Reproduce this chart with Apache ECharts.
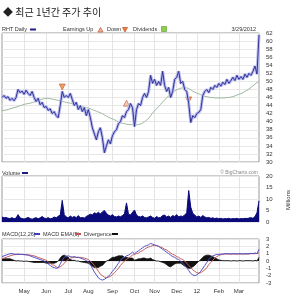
<!DOCTYPE html>
<html>
<head>
<meta charset="utf-8">
<script src="https://cdn.jsdelivr.net/npm/echarts@6/dist/echarts.min.js"></script>
<style>
  html, body { margin: 0; padding: 0; background: #fff; }
  #chart { width: 297px; height: 298px; }
</style>
</head>
<body>
<div id="chart"></div>
<script>
// daily closes, sampled every other trading day (Apr 2011 - 3/29/2012)
const price = [
  46.0, 46.5, 45.8, 46.2, 45.3, 45.8, 45.2, 46.0, 48.0, 47.2,
  47.6, 46.8, 47.8, 47.0, 46.5, 47.5, 46.0, 45.0, 45.8, 44.2,
  44.8, 43.5, 43.8, 42.8, 43.2, 42.0, 42.5, 41.5, 41.0, 44.0,
  47.5, 46.0, 46.5, 46.0, 47.0, 45.5, 44.0, 44.8, 43.0, 44.0,
  42.5, 43.5, 41.5, 43.0, 41.0, 38.5, 37.0, 35.5, 37.5, 38.5,
  36.0, 32.3, 34.0, 35.5, 34.5, 36.5, 37.5, 38.0, 39.5, 40.0,
  41.5, 41.0, 42.5, 43.0, 44.5, 43.5, 38.8, 43.0, 44.5, 44.0,
  46.0, 47.0, 46.0, 47.5, 51.5, 49.5, 50.5, 49.0, 50.0, 49.0,
  52.5, 49.0, 47.5, 48.5, 46.0, 47.5, 50.5, 51.0, 52.5, 49.5,
  50.0, 48.0, 47.5, 44.5, 39.8, 41.5, 41.0, 42.0, 42.3, 43.0,
  46.5, 47.5, 48.0, 47.2, 48.5, 48.0, 49.0, 48.5, 49.5, 48.8,
  49.8, 49.2, 50.5, 49.5, 50.2, 51.0, 50.2, 51.5, 50.5, 51.2,
  50.5, 51.8, 51.0, 52.0, 51.5, 52.5, 53.8, 51.8, 61.5
];
const movingAvg = [
  42.7, 42.8, 42.9, 43.0, 43.2, 43.3, 43.5, 43.6, 43.8, 44.0,
  44.1, 44.3, 44.4, 44.5, 44.6, 44.7, 44.9, 45.1, 45.3, 45.5,
  45.6, 45.7, 45.8, 45.8, 45.7, 45.6, 45.5, 45.4, 45.3, 45.2,
  45.0, 44.9, 44.8, 44.7, 44.6, 44.5, 44.3, 44.2, 44.0, 43.9,
  43.8, 43.6, 43.5, 43.4, 43.2, 43.0, 42.8, 42.6, 42.4, 42.2,
  42.0, 41.7, 41.4, 41.1, 40.9, 40.7, 40.5, 40.2, 40.0, 39.8,
  39.6, 39.5, 39.4, 39.3, 39.3, 39.2, 39.2, 39.2, 39.3, 39.4,
  39.7, 40.0, 40.4, 40.8, 41.5, 42.1, 42.7, 43.2, 43.8, 44.3,
  44.9, 45.4, 45.9, 46.4, 46.8, 47.2, 47.6, 47.9, 48.1, 48.3,
  48.4, 48.5, 48.4, 48.2, 47.9, 47.6, 47.3, 47.1, 46.9, 46.7,
  46.5, 46.3, 46.2, 46.1, 46.0, 46.0, 45.9, 45.9, 45.9, 45.9,
  45.9, 45.9, 46.0, 46.0, 46.1, 46.2, 46.4, 46.6, 46.8, 47.0,
  47.2, 47.5, 47.8, 48.1, 48.5, 48.9, 49.3, 49.7, 50.0
];
// volume, millions
const volume = [
  2.2, 1.8, 2.0, 1.6, 1.5, 1.9, 1.4, 1.7, 3.2, 1.8,
  1.5, 1.3, 1.6, 2.0, 1.5, 1.2, 1.6, 1.9, 1.4, 1.8,
  2.4, 1.7, 1.5, 1.9, 1.4, 1.6, 2.2, 1.8, 2.5, 3.0,
  9.4, 3.2, 2.2, 1.8, 2.6, 2.0, 2.4, 1.9, 2.8, 1.8,
  2.0, 1.7, 2.4, 2.9, 3.4, 3.0, 4.0, 3.6, 4.2, 3.5,
  4.4, 5.0, 3.8, 3.0, 2.6, 3.2, 2.4, 2.2, 2.6, 2.3,
  2.8, 3.6, 8.3, 3.4, 3.0, 4.2, 5.2, 3.0, 2.4, 2.2,
  2.6, 2.0, 1.8, 2.2, 2.6, 2.0, 1.6, 2.4, 1.8, 2.0,
  2.8, 3.0, 2.2, 2.6, 2.0, 2.8, 2.4, 3.2, 2.2, 2.6,
  2.4, 3.0, 4.0, 13.7, 6.5, 3.8, 3.0, 2.2, 2.6, 2.0,
  2.8, 2.2, 1.8, 2.0, 1.6, 1.8, 1.5, 1.7, 1.4, 1.6,
  1.3, 1.5, 1.4, 1.6, 1.3, 1.5, 1.4, 1.6, 1.3, 1.5,
  1.4, 1.6, 1.5, 1.7, 1.9, 1.6, 2.4, 4.0, 9.2
];
const macd = [
  0.6, 0.7, 0.8, 0.9, 1.0, 1.0, 0.95, 0.9, 0.95, 0.9,
  0.9, 0.85, 0.85, 0.8, 0.7, 0.6, 0.5, 0.4, 0.3, 0.2,
  0.1, 0.0, -0.2, -0.4, -0.6, -0.8, -0.9, -1.0, -0.9, -0.4,
  0.1, 0.5, 0.65, 0.7, 0.6, 0.55, 0.6, 0.5, 0.5, 0.4,
  0.3, 0.2, 0.05, -0.1, -0.5, -1.0, -1.5, -1.9, -2.3, -2.5,
  -2.6, -2.5, -2.3, -2.1, -1.8, -1.4, -1.1, -0.7, -0.3, 0.1,
  0.4, 0.5, 0.7, 0.8, 1.0, 1.2, 1.0, 1.2, 1.4, 1.6,
  1.8, 2.0, 2.1, 2.2, 2.4, 2.3, 2.2, 2.1, 2.0, 1.8,
  1.6, 1.4, 1.2, 1.0, 0.8, 0.6, 0.5, 0.3, 0.2, 0.0,
  -0.3, -0.6, -0.9, -1.3, -1.7, -1.9, -2.0, -1.9, -1.7, -1.4,
  -1.0, -0.6, -0.2, 0.2, 0.5, 0.7, 0.8, 0.9, 0.9, 0.95,
  0.95, 1.0, 1.0, 1.0, 0.95, 1.0, 1.0, 0.95, 1.0, 1.0,
  0.95, 1.0, 1.0, 1.0, 1.05, 1.0, 1.1, 1.0, 1.6
];
const macdEma = [
  0.3, 0.4, 0.5, 0.6, 0.7, 0.8, 0.85, 0.9, 0.9, 0.9,
  0.9, 0.9, 0.85, 0.85, 0.8, 0.75, 0.7, 0.6, 0.5, 0.4,
  0.3, 0.2, 0.1, -0.1, -0.3, -0.5, -0.6, -0.8, -0.9, -0.8,
  -0.6, -0.3, 0.0, 0.2, 0.4, 0.45, 0.5, 0.5, 0.5, 0.5,
  0.45, 0.4, 0.3, 0.2, 0.0, -0.3, -0.6, -1.0, -1.4, -1.8,
  -2.0, -2.2, -2.25, -2.2, -2.1, -1.9, -1.6, -1.3, -1.0, -0.6,
  -0.3, 0.0, 0.2, 0.4, 0.6, 0.8, 0.9, 1.0, 1.1, 1.3,
  1.4, 1.6, 1.8, 1.9, 2.0, 2.1, 2.1, 2.1, 2.0, 1.9,
  1.8, 1.6, 1.5, 1.3, 1.1, 0.9, 0.8, 0.6, 0.5, 0.3,
  0.2, 0.0, -0.3, -0.6, -0.9, -1.2, -1.4, -1.6, -1.65, -1.6,
  -1.4, -1.2, -0.9, -0.5, -0.2, 0.1, 0.4, 0.6, 0.75, 0.85,
  0.9, 0.95, 0.95, 0.95, 0.95, 0.95, 0.95, 0.95, 0.95, 0.95,
  0.95, 0.95, 0.95, 0.95, 1.0, 1.0, 1.0, 1.0, 1.1
];
const divergence = [
  0.3, 0.3, 0.3, 0.3, 0.3, 0.2, 0.1, 0.0, 0.05, 0.0,
  0.0, -0.05, 0.0, -0.05, -0.1, -0.15, -0.2, -0.2, -0.2, -0.2,
  -0.2, -0.2, -0.3, -0.3, -0.3, -0.3, -0.3, -0.2, 0.0, 0.4,
  0.7, 0.8, 0.65, 0.5, 0.2, 0.1, 0.1, 0.0, 0.0, -0.1,
  -0.15, -0.2, -0.25, -0.3, -0.5, -0.7, -0.9, -0.9, -0.9, -0.7,
  -0.6, -0.3, 0.0, 0.1, 0.3, 0.5, 0.5, 0.6, 0.7, 0.7,
  0.7, 0.5, 0.5, 0.4, 0.4, 0.4, 0.1, 0.2, 0.3, 0.3,
  0.4, 0.4, 0.3, 0.3, 0.4, 0.2, 0.1, 0.0, 0.0, -0.1,
  -0.2, -0.3, -0.5, -0.7, -0.8, -0.6, -0.4, -0.3, -0.3, -0.3,
  -0.5, -0.7, -0.9, -1.0, -1.0, -0.8, -0.6, -0.3, -0.05, 0.2,
  0.5, 0.7, 0.8, 0.8, 0.7, 0.6, 0.4, 0.3, 0.15, 0.1,
  0.05, 0.05, 0.05, 0.05, 0.0, 0.05, 0.05, 0.0, 0.05, 0.05,
  0.0, 0.05, 0.05, 0.05, 0.05, 0.0, 0.1, 0.0, 0.5
];
const monthLabels = ['May', 'Jun', 'Jul', 'Aug', 'Sep', 'Oct', 'Nov', 'Dec', '12', 'Feb', 'Mar'];
const monthIdx = [11, 22, 33, 43, 55, 66, 76, 87, 97, 108, 118];
const earnUp = [[62, 44.6]];
const earnDown = [[30, 48.6], [93, 45.4]];

const days = price.map((_, i) => String(i));
const FONT = 'Liberation Sans';
const isMonth = (i) => monthIdx.indexOf(i) >= 0;

const chart = echarts.init(document.getElementById('chart'));

const xAx = (gi, showLabel) => ({
  type: 'category',
  gridIndex: gi,
  data: days,
  boundaryGap: false,
  axisLine: { show: false },
  axisTick: { show: false },
  splitLine: { show: true, interval: isMonth, lineStyle: { color: '#e4e4e4', width: 1 } },
  axisLabel: {
    show: showLabel,
    interval: isMonth,
    margin: 5,
    fontSize: 6,
    fontFamily: FONT,
    color: '#333',
    formatter: (v) => monthLabels[monthIdx.indexOf(+v)] || ''
  }
});
const yAx = (gi, min, max, interval) => ({
  type: 'value',
  gridIndex: gi,
  position: 'right',
  min, max, interval,
  axisLine: { show: false },
  axisTick: { show: false },
  splitLine: { lineStyle: { color: '#e8e8e8', width: 1 } },
  axisLabel: { margin: 7, fontSize: 6, fontFamily: FONT, color: '#333' }
});

const txt = (x, y, s, opt) => ({
  type: 'text', x, y,
  style: Object.assign({ text: s, fontSize: 5.5, fontFamily: FONT, fill: '#333', textVerticalAlign: 'middle' }, opt || {})
});
const bar = (x, y, w, color) => ({ type: 'rect', shape: { x, y: y - 1, width: w, height: 2 }, style: { fill: color } });

chart.setOption({
  animation: false,
  grid: [
    { left: 2, right: 38, top: 33, height: 129, show: true, borderColor: '#999', borderWidth: 1 },
    { left: 2, right: 38, top: 176, height: 46, show: true, borderColor: '#999', borderWidth: 1 },
    { left: 2, right: 38, top: 239, height: 44, show: true, borderColor: '#999', borderWidth: 1 }
  ],
  xAxis: [xAx(0, false), xAx(1, false), xAx(2, true)],
  yAxis: [yAx(0, 30, 62, 2), yAx(1, 0, 20, 5), yAx(2, -3, 3, 1)],
  graphic: [
    txt(3, 12, '◆ 최근 1년간 주가 추이', { fontSize: 10, fontFamily: 'Noto Sans CJK KR', fill: '#222' }),
    txt(2, 29.5, 'RHT Daily'),
    bar(30, 29.5, 6, '#1c1c8a'),
    txt(63, 29.5, 'Earnings Up'),
    { type: 'polygon', shape: { points: [[98, 32], [100.5, 27.5], [103, 32]] }, style: { fill: '#f2b7a4', stroke: '#c0603a', lineWidth: 0.8 } },
    txt(107, 29.5, 'Down'),
    { type: 'polygon', shape: { points: [[122.5, 27.5], [127.5, 27.5], [125, 32]] }, style: { fill: '#e8843c', stroke: '#c0603a', lineWidth: 0.8 } },
    txt(133, 29.5, 'Dividends'),
    { type: 'rect', shape: { x: 161.5, y: 26.5, width: 5, height: 5 }, style: { fill: '#8ccf4a', stroke: '#5a9a2a', lineWidth: 0.6 } },
    txt(256, 29.5, '3/29/2012', { textAlign: 'right' }),
    txt(2, 173, 'Volume'),
    bar(22, 173, 6, '#1c1c8a'),
    txt(258, 173, '© BigCharts.com', { textAlign: 'right', fontSize: 5, fill: '#888' }),
    { type: 'text', x: 288, y: 200, rotation: Math.PI / 2,
      style: { text: 'Millions', fontSize: 6, fontFamily: FONT, fill: '#333', textAlign: 'center', textVerticalAlign: 'middle' } },
    txt(2, 234, 'MACD(12,26)'),
    bar(34, 234, 6, '#3c3cc0'),
    txt(43, 234, 'MACD EMA(9)'),
    bar(75, 234, 6, '#c85050'),
    txt(84, 234, 'Divergence'),
    bar(112, 234, 6, '#111')
  ],
  series: [
    { type: 'line', xAxisIndex: 0, yAxisIndex: 0, data: movingAvg, symbol: 'none',
      lineStyle: { color: '#9cb89c', width: 1 } },
    { type: 'line', xAxisIndex: 0, yAxisIndex: 0, data: price, symbol: 'none',
      lineStyle: { color: '#b7baed', width: 3 } },
    { type: 'line', xAxisIndex: 0, yAxisIndex: 0, data: price, symbol: 'none',
      lineStyle: { color: '#24248e', width: 0.9 } },
    { type: 'scatter', xAxisIndex: 0, yAxisIndex: 0, data: earnUp, symbol: 'triangle', symbolSize: 6,
      itemStyle: { color: '#f2b7a4', borderColor: '#c0603a', borderWidth: 0.8 } },
    { type: 'scatter', xAxisIndex: 0, yAxisIndex: 0, data: earnDown, symbol: 'triangle', symbolRotate: 180, symbolSize: 6,
      itemStyle: { color: '#e8843c', borderColor: '#c0603a', borderWidth: 0.8 } },
    { type: 'line', xAxisIndex: 1, yAxisIndex: 1, data: volume, symbol: 'none',
      lineStyle: { color: '#0a0a7a', width: 1 }, areaStyle: { color: '#0a0a7a', opacity: 1 } },
    { type: 'line', xAxisIndex: 2, yAxisIndex: 2, data: divergence, symbol: 'none',
      lineStyle: { color: '#111', width: 0.8 }, areaStyle: { color: '#111', opacity: 1 } },
    { type: 'line', xAxisIndex: 2, yAxisIndex: 2, data: macdEma, symbol: 'none',
      lineStyle: { color: '#c85a5a', width: 1 } },
    { type: 'line', xAxisIndex: 2, yAxisIndex: 2, data: macd, symbol: 'none',
      lineStyle: { color: '#5050c8', width: 1 } }
  ]
});
</script>
</body>
</html>
